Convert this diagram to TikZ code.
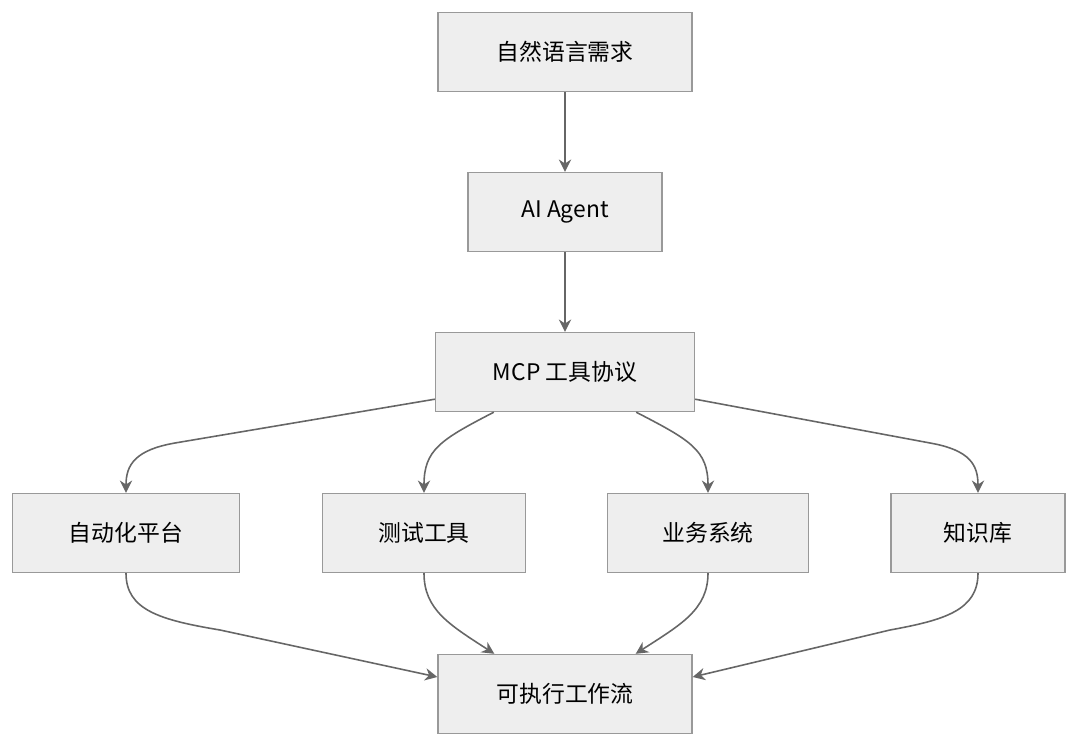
\documentclass[tikz,border=0pt]{standalone}
\usepackage{fontspec}
\setmainfont{Noto Sans CJK SC}
\usetikzlibrary{arrows.meta}
\definecolor{boxfill}{HTML}{EEEEEE}
\definecolor{boxline}{HTML}{999999}
\definecolor{edge}{HTML}{666666}
\begin{document}
\begin{tikzpicture}[x=0.02cm,y=-0.02cm,
  box/.style={draw=boxline,fill=boxfill,line width=0.8pt,minimum height=1.58cm,inner sep=0pt,font=\fontsize{13pt}{15pt}\selectfont},
  conn/.style={draw=edge,line width=0.9pt,-{Stealth[length=7pt,width=7pt]}}]
\useasboundingbox (0,0) rectangle (1080,747);
\node[box,minimum width=5.08cm] (req) at (565,52) {自然语言需求};
\node[box,minimum width=3.88cm] (ai) at (565,212) {AI Agent};
\node[box,minimum width=5.18cm] (mcp) at (565,372) {MCP 工具协议};
\node[box,minimum width=4.54cm] (auto) at (126,533) {自动化平台};
\node[box,minimum width=4.06cm] (test) at (424,533) {测试工具};
\node[box,minimum width=4.02cm] (biz) at (708,533) {业务系统};
\node[box,minimum width=3.48cm] (kb) at (978,533) {知识库};
\node[box,minimum width=5.08cm] (flow) at (565,694) {可执行工作流};
\draw[conn] (req) -- (ai);
\draw[conn] (ai) -- (mcp);
\draw[conn] ([yshift=0.26cm]mcp.south west) -- (175,443) .. controls (135,450) and (126,465) .. (auto.north);
\draw[conn] ([xshift=1.18cm]mcp.south west) .. controls (440,440) and (424,450) .. (test.north);
\draw[conn] ([xshift=-1.18cm]mcp.south east) .. controls (690,440) and (708,450) .. (biz.north);
\draw[conn] ([yshift=0.26cm]mcp.south east) -- (930,443) .. controls (970,450) and (978,465) .. (kb.north);
\draw[conn] (auto.south) .. controls (126,610) and (160,620) .. (220,630) -- ([yshift=0.34cm]flow.west);
\draw[conn] (test.south) .. controls (424,610) and (450,625) .. ([xshift=1.14cm]flow.north west);
\draw[conn] (biz.south) .. controls (708,610) and (680,625) .. ([xshift=-1.14cm]flow.north east);
\draw[conn] (kb.south) .. controls (978,610) and (945,620) .. (890,630) -- ([yshift=0.34cm]flow.east);
\end{tikzpicture}
\end{document}
